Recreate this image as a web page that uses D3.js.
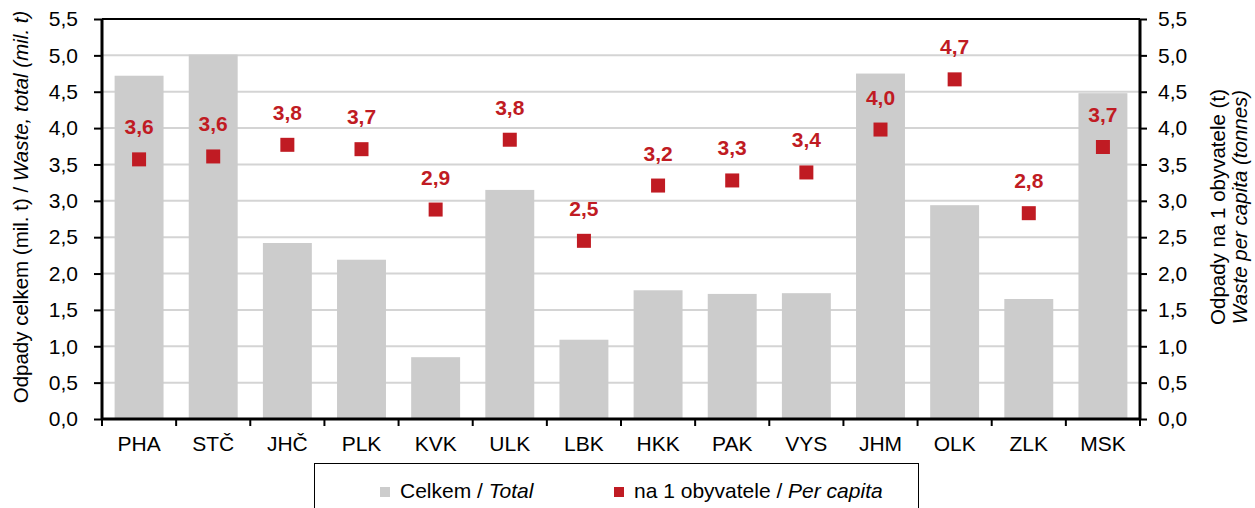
<!DOCTYPE html>
<html>
<head>
<meta charset="utf-8">
<script src="https://cdn.jsdelivr.net/npm/d3@7"></script>
<style>
  body { margin: 0; background: #fff; }
  text { font-family: "Liberation Sans", Arial, sans-serif; }
</style>
</head>
<body>
<div id="chart"></div>
<script>
let regions = ["PHA", "STČ", "JHČ", "PLK", "KVK", "ULK", "LBK", "HKK", "PAK", "VYS", "JHM", "OLK", "ZLK", "MSK"];
let total = [4.72, 5.01, 2.42, 2.19, 0.85, 3.15, 1.09, 1.77, 1.72, 1.73, 4.75, 2.94, 1.65, 4.48];
let perCapita = [3.57, 3.61, 3.77, 3.71, 2.88, 3.84, 2.45, 3.21, 3.28, 3.39, 3.98, 4.67, 2.83, 3.74];
let yTicks = [0, 0.5, 1, 1.5, 2, 2.5, 3, 3.5, 4, 4.5, 5, 5.5];

let width = 1255, height = 508;
let margin = {left: 102, right: 115, top: 19, bottom: 89};
let plotW = width - margin.left - margin.right;
let plotH = height - margin.top - margin.bottom;
let fontSize = "21px";
let titleSize = "20.5px";

let data = regions.map((r, i) => ({region: r, total: total[i], pc: perCapita[i]}));
let fmt = v => d3.format(".1f")(v).replace(".", ",");

let svg = d3.select("#chart")
    .append("svg")
    .attr("width", width)
    .attr("height", height)
    .append("g")
    .attr("transform", `translate(${margin.left},${margin.top})`);

let x = d3.scaleBand()
    .domain(regions)
    .range([0, plotW])
    .paddingInner(0.34)
    .paddingOuter(0.17);

let yL = d3.scaleLinear().domain([0, 5.5]).range([plotH, 0]);
let yR = d3.scaleLinear().domain([0, 5.5]).range([plotH, 0]);

// gridlines
svg.append("g")
    .selectAll("line")
    .data(yTicks.slice(1, -1))
    .enter()
    .append("line")
    .attr("x1", 0)
    .attr("x2", plotW)
    .attr("y1", d => yL(d))
    .attr("y2", d => yL(d))
    .attr("stroke", "#d4d4d4")
    .attr("stroke-width", 2);

// bars
svg.append("g")
    .selectAll("rect")
    .data(data)
    .enter()
    .append("rect")
    .attr("x", d => x(d.region))
    .attr("y", d => yL(d.total))
    .attr("width", x.bandwidth())
    .attr("height", d => plotH - yL(d.total))
    .attr("fill", "#cccccc");

// per capita markers
let ms = 14;
svg.append("g")
    .selectAll("rect")
    .data(data)
    .enter()
    .append("rect")
    .attr("x", d => x(d.region) + x.bandwidth() / 2 - ms / 2)
    .attr("y", d => yR(d.pc) - ms / 2)
    .attr("width", ms)
    .attr("height", ms)
    .attr("fill", "#c01b23");

svg.append("g")
    .selectAll("text")
    .data(data)
    .enter()
    .append("text")
    .attr("x", d => x(d.region) + x.bandwidth() / 2)
    .attr("y", d => yR(d.pc) - 25)
    .style("text-anchor", "middle")
    .style("font-size", fontSize)
    .style("font-weight", "bold")
    .attr("fill", "#c01b23")
    .text(d => fmt(d.pc));

// frame top
svg.append("line")
    .attr("x1", 0).attr("x2", plotW)
    .attr("y1", 0).attr("y2", 0)
    .attr("stroke", "#000").attr("stroke-width", 2);

// axes
let leftAxis = svg.append("g")
    .call(d3.axisLeft(yL).tickValues(yTicks).tickFormat(fmt).tickSize(8).tickPadding(16));
let rightAxis = svg.append("g")
    .attr("transform", `translate(${plotW},0)`)
    .call(d3.axisRight(yR).tickValues(yTicks).tickFormat(fmt).tickSize(7).tickPadding(11));

let bounds = d3.range(regions.length + 1).map(i => i * x.step());
let bottomAxis = svg.append("g")
    .attr("transform", `translate(0,${plotH})`)
    .call(d3.axisBottom(x).tickSize(0).tickPadding(17));
bottomAxis.selectAll(".sep")
    .data(bounds)
    .enter()
    .append("line")
    .attr("x1", d => d).attr("x2", d => d)
    .attr("y1", 0).attr("y2", 7)
    .attr("stroke", "#000").attr("stroke-width", 2);

[leftAxis, rightAxis, bottomAxis].forEach(a => {
    a.selectAll(".domain").attr("stroke", "#000").attr("stroke-width", 3);
    a.selectAll(".tick line").attr("stroke", "#000").attr("stroke-width", 2);
    a.selectAll("text")
        .style("font-size", fontSize)
        .style("font-family", "'Liberation Sans', Arial, sans-serif")
        .attr("fill", "#000");
});
bottomAxis.select(".domain").attr("d", `M0,0H${plotW}`);
leftAxis.select(".domain").attr("d", `M0,0V${plotH}`);
rightAxis.select(".domain").attr("d", `M0,0V${plotH}`);

// axis titles
let titleY = 188;
let lt = svg.append("text")
    .attr("transform", `translate(${-74}, ${titleY}) rotate(-90)`)
    .style("text-anchor", "middle")
    .style("font-size", titleSize);
lt.append("tspan").text("Odpady celkem (mil. t) / ");
lt.append("tspan").style("font-style", "italic").text("Waste, total (mil. t)");

svg.append("text")
    .attr("transform", `translate(${plotW + 85}, ${titleY}) rotate(-90)`)
    .style("text-anchor", "middle")
    .style("font-size", titleSize)
    .text("Odpady na 1 obyvatele (t)");
svg.append("text")
    .attr("transform", `translate(${plotW + 107}, ${titleY}) rotate(-90)`)
    .style("text-anchor", "middle")
    .style("font-size", titleSize)
    .style("font-style", "italic")
    .text("Waste per capita (tonnes)");

// legend
let legend = d3.select("svg").append("g");
legend.append("rect")
    .attr("x", 314.5).attr("y", 463.5)
    .attr("width", 604).attr("height", 60)
    .attr("fill", "#fff").attr("stroke", "#000").attr("stroke-width", 1);

let items = [
    {color: "#cccccc", main: "Celkem", en: "Total", x: 380},
    {color: "#c01b23", main: "na 1 obyvatele", en: "Per capita", x: 614}
];
items.forEach(it => {
    legend.append("rect")
        .attr("x", it.x).attr("y", 487)
        .attr("width", 10).attr("height", 10)
        .attr("fill", it.color);
    let t = legend.append("text")
        .attr("x", it.x + 20).attr("y", 498)
        .style("font-size", fontSize);
    t.append("tspan").text(it.main + " / ");
    t.append("tspan").style("font-style", "italic").text(it.en);
});
</script>
</body>
</html>
